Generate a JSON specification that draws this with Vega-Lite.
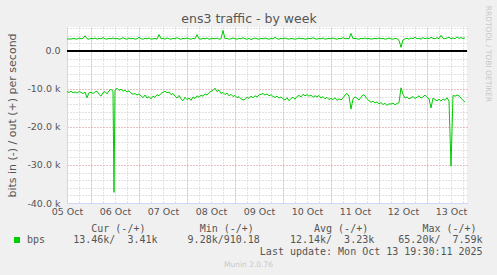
{
"$schema": "https://vega.github.io/schema/vega-lite/v6.json",
"width": 400, "height": 176,
"autosize": {"type": "none"},
"padding": {"left": 67, "top": 27, "right": 30, "bottom": 72},
"background": "#f0f0f0",
"config": {"view": {"fill": "#ffffff", "stroke": null}, "font": "DejaVu Sans"},
"title": {"text": "ens3 traffic - by week", "font": "DejaVu Sans", "fontSize": 12.5, "fontWeight": "normal", "color": "#555555", "anchor": "middle", "dx": -18, "dy": 35, "offset": 5, "baseline": "alphabetic"},
"data": {"values": [
{"time":"2025-10-05T12:00","outbps":3100,"inbps":-10700},
{"time":"2025-10-05T13:00","outbps":3200,"inbps":-10900},
{"time":"2025-10-05T14:00","outbps":3100,"inbps":-10600},
{"time":"2025-10-05T15:00","outbps":3300,"inbps":-11000},
{"time":"2025-10-05T16:00","outbps":3200,"inbps":-10800},
{"time":"2025-10-05T17:00","outbps":3100,"inbps":-11100},
{"time":"2025-10-05T18:00","outbps":3400,"inbps":-10700},
{"time":"2025-10-05T19:00","outbps":3200,"inbps":-10900},
{"time":"2025-10-05T20:00","outbps":3300,"inbps":-11200},
{"time":"2025-10-05T21:00","outbps":4000,"inbps":-10800},
{"time":"2025-10-05T22:00","outbps":3200,"inbps":-12300},
{"time":"2025-10-05T23:00","outbps":3100,"inbps":-11000},
{"time":"2025-10-06T00:00","outbps":3300,"inbps":-10900},
{"time":"2025-10-06T01:00","outbps":3200,"inbps":-11200},
{"time":"2025-10-06T02:00","outbps":3400,"inbps":-10800},
{"time":"2025-10-06T03:00","outbps":3100,"inbps":-10600},
{"time":"2025-10-06T04:00","outbps":3300,"inbps":-11400},
{"time":"2025-10-06T05:00","outbps":3200,"inbps":-11900},
{"time":"2025-10-06T06:00","outbps":3500,"inbps":-11000},
{"time":"2025-10-06T07:00","outbps":3200,"inbps":-10700},
{"time":"2025-10-06T08:00","outbps":3100,"inbps":-11300},
{"time":"2025-10-06T09:00","outbps":3300,"inbps":-10500},
{"time":"2025-10-06T10:00","outbps":3200,"inbps":-10100},
{"time":"2025-10-06T11:00","outbps":3400,"inbps":-10600},
{"time":"2025-10-06T11:30","outbps":3300,"inbps":-37200},
{"time":"2025-10-06T12:00","outbps":3200,"inbps":-10300},
{"time":"2025-10-06T13:00","outbps":3300,"inbps":-9800},
{"time":"2025-10-06T14:00","outbps":3100,"inbps":-10400},
{"time":"2025-10-06T15:00","outbps":3200,"inbps":-10100},
{"time":"2025-10-06T16:00","outbps":3500,"inbps":-10600},
{"time":"2025-10-06T17:00","outbps":3200,"inbps":-10300},
{"time":"2025-10-06T18:00","outbps":3100,"inbps":-10800},
{"time":"2025-10-06T19:00","outbps":3400,"inbps":-10500},
{"time":"2025-10-06T20:00","outbps":3200,"inbps":-11100},
{"time":"2025-10-06T21:00","outbps":3300,"inbps":-11400},
{"time":"2025-10-06T22:00","outbps":3100,"inbps":-11200},
{"time":"2025-10-06T23:00","outbps":3200,"inbps":-11600},
{"time":"2025-10-07T00:00","outbps":3600,"inbps":-11300},
{"time":"2025-10-07T01:00","outbps":3200,"inbps":-11800},
{"time":"2025-10-07T02:00","outbps":3100,"inbps":-12300},
{"time":"2025-10-07T03:00","outbps":3300,"inbps":-11600},
{"time":"2025-10-07T04:00","outbps":3200,"inbps":-12400},
{"time":"2025-10-07T05:00","outbps":3400,"inbps":-12000},
{"time":"2025-10-07T06:00","outbps":3100,"inbps":-12600},
{"time":"2025-10-07T07:00","outbps":3200,"inbps":-11900},
{"time":"2025-10-07T08:00","outbps":3300,"inbps":-12200},
{"time":"2025-10-07T09:00","outbps":3100,"inbps":-11500},
{"time":"2025-10-07T10:00","outbps":4300,"inbps":-11800},
{"time":"2025-10-07T11:00","outbps":3200,"inbps":-11200},
{"time":"2025-10-07T12:00","outbps":3300,"inbps":-10900},
{"time":"2025-10-07T13:00","outbps":3100,"inbps":-10600},
{"time":"2025-10-07T14:00","outbps":3400,"inbps":-11000},
{"time":"2025-10-07T15:00","outbps":3200,"inbps":-10800},
{"time":"2025-10-07T16:00","outbps":3100,"inbps":-11500},
{"time":"2025-10-07T17:00","outbps":3300,"inbps":-11200},
{"time":"2025-10-07T18:00","outbps":3200,"inbps":-11900},
{"time":"2025-10-07T19:00","outbps":3500,"inbps":-12400},
{"time":"2025-10-07T20:00","outbps":3200,"inbps":-11700},
{"time":"2025-10-07T21:00","outbps":3100,"inbps":-12600},
{"time":"2025-10-07T22:00","outbps":3300,"inbps":-13100},
{"time":"2025-10-07T23:00","outbps":3200,"inbps":-12200},
{"time":"2025-10-08T00:00","outbps":3400,"inbps":-12800},
{"time":"2025-10-08T01:00","outbps":3200,"inbps":-12400},
{"time":"2025-10-08T02:00","outbps":3100,"inbps":-13000},
{"time":"2025-10-08T03:00","outbps":3300,"inbps":-12100},
{"time":"2025-10-08T04:00","outbps":3200,"inbps":-12500},
{"time":"2025-10-08T05:00","outbps":4300,"inbps":-11800},
{"time":"2025-10-08T06:00","outbps":3200,"inbps":-12200},
{"time":"2025-10-08T07:00","outbps":3100,"inbps":-11600},
{"time":"2025-10-08T08:00","outbps":3300,"inbps":-11900},
{"time":"2025-10-08T09:00","outbps":3200,"inbps":-11300},
{"time":"2025-10-08T10:00","outbps":3400,"inbps":-11600},
{"time":"2025-10-08T11:00","outbps":3100,"inbps":-11000},
{"time":"2025-10-08T12:00","outbps":3200,"inbps":-10600},
{"time":"2025-10-08T13:00","outbps":3300,"inbps":-10400},
{"time":"2025-10-08T14:00","outbps":3200,"inbps":-9800},
{"time":"2025-10-08T15:00","outbps":3400,"inbps":-10700},
{"time":"2025-10-08T16:00","outbps":3100,"inbps":-10300},
{"time":"2025-10-08T17:00","outbps":3200,"inbps":-11200},
{"time":"2025-10-08T18:00","outbps":5400,"inbps":-10900},
{"time":"2025-10-08T19:00","outbps":3200,"inbps":-11500},
{"time":"2025-10-08T20:00","outbps":3300,"inbps":-11100},
{"time":"2025-10-08T21:00","outbps":3100,"inbps":-11800},
{"time":"2025-10-08T22:00","outbps":3200,"inbps":-11400},
{"time":"2025-10-08T23:00","outbps":3400,"inbps":-12000},
{"time":"2025-10-09T00:00","outbps":3200,"inbps":-11700},
{"time":"2025-10-09T01:00","outbps":3100,"inbps":-12300},
{"time":"2025-10-09T02:00","outbps":3300,"inbps":-12000},
{"time":"2025-10-09T03:00","outbps":3200,"inbps":-12600},
{"time":"2025-10-09T04:00","outbps":3500,"inbps":-12900},
{"time":"2025-10-09T05:00","outbps":3200,"inbps":-12700},
{"time":"2025-10-09T06:00","outbps":3100,"inbps":-12200},
{"time":"2025-10-09T07:00","outbps":3300,"inbps":-12500},
{"time":"2025-10-09T08:00","outbps":3000,"inbps":-11900},
{"time":"2025-10-09T09:00","outbps":3200,"inbps":-12300},
{"time":"2025-10-09T10:00","outbps":3400,"inbps":-11800},
{"time":"2025-10-09T11:00","outbps":3200,"inbps":-12100},
{"time":"2025-10-09T12:00","outbps":3100,"inbps":-11600},
{"time":"2025-10-09T13:00","outbps":3300,"inbps":-11400},
{"time":"2025-10-09T14:00","outbps":3200,"inbps":-11200},
{"time":"2025-10-09T15:00","outbps":3400,"inbps":-11600},
{"time":"2025-10-09T16:00","outbps":3200,"inbps":-11300},
{"time":"2025-10-09T17:00","outbps":3100,"inbps":-11800},
{"time":"2025-10-09T18:00","outbps":3300,"inbps":-11500},
{"time":"2025-10-09T19:00","outbps":3200,"inbps":-12000},
{"time":"2025-10-09T20:00","outbps":3600,"inbps":-12200},
{"time":"2025-10-09T21:00","outbps":3200,"inbps":-11900},
{"time":"2025-10-09T22:00","outbps":3100,"inbps":-12400},
{"time":"2025-10-09T23:00","outbps":3300,"inbps":-12100},
{"time":"2025-10-10T00:00","outbps":3200,"inbps":-12600},
{"time":"2025-10-10T01:00","outbps":3400,"inbps":-12900},
{"time":"2025-10-10T02:00","outbps":3200,"inbps":-12300},
{"time":"2025-10-10T03:00","outbps":3100,"inbps":-13100},
{"time":"2025-10-10T04:00","outbps":3300,"inbps":-12500},
{"time":"2025-10-10T05:00","outbps":3200,"inbps":-12200},
{"time":"2025-10-10T06:00","outbps":3100,"inbps":-12700},
{"time":"2025-10-10T07:00","outbps":3200,"inbps":-12000},
{"time":"2025-10-10T08:00","outbps":3400,"inbps":-11700},
{"time":"2025-10-10T09:00","outbps":3200,"inbps":-12100},
{"time":"2025-10-10T10:00","outbps":3300,"inbps":-11400},
{"time":"2025-10-10T11:00","outbps":3100,"inbps":-11800},
{"time":"2025-10-10T12:00","outbps":3200,"inbps":-11500},
{"time":"2025-10-10T13:00","outbps":3300,"inbps":-11900},
{"time":"2025-10-10T14:00","outbps":3200,"inbps":-11600},
{"time":"2025-10-10T15:00","outbps":3500,"inbps":-12200},
{"time":"2025-10-10T16:00","outbps":3200,"inbps":-11800},
{"time":"2025-10-10T17:00","outbps":3100,"inbps":-12100},
{"time":"2025-10-10T18:00","outbps":3300,"inbps":-11700},
{"time":"2025-10-10T19:00","outbps":3200,"inbps":-12400},
{"time":"2025-10-10T20:00","outbps":3400,"inbps":-12000},
{"time":"2025-10-10T21:00","outbps":3100,"inbps":-12600},
{"time":"2025-10-10T22:00","outbps":3200,"inbps":-12200},
{"time":"2025-10-10T23:00","outbps":3300,"inbps":-12800},
{"time":"2025-10-11T00:00","outbps":3200,"inbps":-12500},
{"time":"2025-10-11T01:00","outbps":3400,"inbps":-12800},
{"time":"2025-10-11T02:00","outbps":3200,"inbps":-12300},
{"time":"2025-10-11T03:00","outbps":3100,"inbps":-13000},
{"time":"2025-10-11T04:00","outbps":3300,"inbps":-12600},
{"time":"2025-10-11T05:00","outbps":3200,"inbps":-12900},
{"time":"2025-10-11T06:00","outbps":3500,"inbps":-12400},
{"time":"2025-10-11T07:00","outbps":3200,"inbps":-11600},
{"time":"2025-10-11T08:00","outbps":3300,"inbps":-11200},
{"time":"2025-10-11T09:00","outbps":3200,"inbps":-11900},
{"time":"2025-10-11T10:00","outbps":4600,"inbps":-15300},
{"time":"2025-10-11T11:00","outbps":3200,"inbps":-12600},
{"time":"2025-10-11T12:00","outbps":3300,"inbps":-12100},
{"time":"2025-10-11T13:00","outbps":3200,"inbps":-12400},
{"time":"2025-10-11T14:00","outbps":3100,"inbps":-12900},
{"time":"2025-10-11T15:00","outbps":3300,"inbps":-12200},
{"time":"2025-10-11T16:00","outbps":3200,"inbps":-11500},
{"time":"2025-10-11T17:00","outbps":3400,"inbps":-11800},
{"time":"2025-10-11T18:00","outbps":3200,"inbps":-12600},
{"time":"2025-10-11T19:00","outbps":3300,"inbps":-13100},
{"time":"2025-10-11T20:00","outbps":3100,"inbps":-13500},
{"time":"2025-10-11T21:00","outbps":3200,"inbps":-13200},
{"time":"2025-10-11T22:00","outbps":3300,"inbps":-13700},
{"time":"2025-10-11T23:00","outbps":3200,"inbps":-13400},
{"time":"2025-10-12T00:00","outbps":3400,"inbps":-13900},
{"time":"2025-10-12T01:00","outbps":3200,"inbps":-13600},
{"time":"2025-10-12T02:00","outbps":3300,"inbps":-14100},
{"time":"2025-10-12T03:00","outbps":3100,"inbps":-13800},
{"time":"2025-10-12T04:00","outbps":3200,"inbps":-14300},
{"time":"2025-10-12T05:00","outbps":3400,"inbps":-13900},
{"time":"2025-10-12T06:00","outbps":3200,"inbps":-14000},
{"time":"2025-10-12T07:00","outbps":3100,"inbps":-13700},
{"time":"2025-10-12T08:00","outbps":3300,"inbps":-14200},
{"time":"2025-10-12T09:00","outbps":3200,"inbps":-13800},
{"time":"2025-10-12T10:00","outbps":2800,"inbps":-13600},
{"time":"2025-10-12T11:00","outbps":950,"inbps":-9700},
{"time":"2025-10-12T12:00","outbps":2900,"inbps":-11400},
{"time":"2025-10-12T13:00","outbps":3200,"inbps":-12400},
{"time":"2025-10-12T14:00","outbps":3300,"inbps":-12100},
{"time":"2025-10-12T15:00","outbps":3100,"inbps":-12600},
{"time":"2025-10-12T16:00","outbps":3400,"inbps":-12300},
{"time":"2025-10-12T17:00","outbps":3200,"inbps":-12000},
{"time":"2025-10-12T18:00","outbps":3600,"inbps":-12500},
{"time":"2025-10-12T19:00","outbps":3200,"inbps":-12200},
{"time":"2025-10-12T20:00","outbps":3300,"inbps":-11800},
{"time":"2025-10-12T21:00","outbps":3100,"inbps":-12400},
{"time":"2025-10-12T22:00","outbps":3500,"inbps":-12100},
{"time":"2025-10-12T23:00","outbps":3200,"inbps":-11600},
{"time":"2025-10-13T00:00","outbps":3400,"inbps":-12200},
{"time":"2025-10-13T01:00","outbps":3200,"inbps":-12600},
{"time":"2025-10-13T02:00","outbps":3600,"inbps":-15000},
{"time":"2025-10-13T03:00","outbps":3300,"inbps":-12400},
{"time":"2025-10-13T04:00","outbps":3200,"inbps":-12800},
{"time":"2025-10-13T05:00","outbps":3500,"inbps":-13100},
{"time":"2025-10-13T06:00","outbps":3200,"inbps":-12700},
{"time":"2025-10-13T07:00","outbps":4100,"inbps":-13200},
{"time":"2025-10-13T08:00","outbps":3300,"inbps":-12600},
{"time":"2025-10-13T09:00","outbps":3200,"inbps":-13000},
{"time":"2025-10-13T10:00","outbps":3400,"inbps":-12300},
{"time":"2025-10-13T11:00","outbps":3600,"inbps":-13200},
{"time":"2025-10-13T12:00","outbps":3200,"inbps":-30300},
{"time":"2025-10-13T13:00","outbps":3400,"inbps":-11700},
{"time":"2025-10-13T14:00","outbps":3200,"inbps":-11900},
{"time":"2025-10-13T15:00","outbps":3700,"inbps":-11600},
{"time":"2025-10-13T16:00","outbps":3300,"inbps":-11800},
{"time":"2025-10-13T17:00","outbps":3500,"inbps":-12400},
{"time":"2025-10-13T18:00","outbps":3300,"inbps":-13000},
{"time":"2025-10-13T19:00","outbps":3410,"inbps":-13460}
]},
"resolve": {"axis": {"x": "independent", "y": "independent"}},
"layer": [
{
"mark": {"type": "line", "strokeWidth": 1},
"encoding": {
"x": {"field": "time", "type": "temporal",
"scale": {"domain": [{"year": 2025, "month": 10, "date": 5, "hours": 12}, {"year": 2025, "month": 10, "date": 13, "hours": 20}]},
"axis": {"orient": "bottom",
"values": [
{"year":2025,"month":10,"date":5,"hours":12},{"year":2025,"month":10,"date":5,"hours":18},
{"year":2025,"month":10,"date":6,"hours":0},{"year":2025,"month":10,"date":6,"hours":6},{"year":2025,"month":10,"date":6,"hours":12},{"year":2025,"month":10,"date":6,"hours":18},
{"year":2025,"month":10,"date":7,"hours":0},{"year":2025,"month":10,"date":7,"hours":6},{"year":2025,"month":10,"date":7,"hours":12},{"year":2025,"month":10,"date":7,"hours":18},
{"year":2025,"month":10,"date":8,"hours":0},{"year":2025,"month":10,"date":8,"hours":6},{"year":2025,"month":10,"date":8,"hours":12},{"year":2025,"month":10,"date":8,"hours":18},
{"year":2025,"month":10,"date":9,"hours":0},{"year":2025,"month":10,"date":9,"hours":6},{"year":2025,"month":10,"date":9,"hours":12},{"year":2025,"month":10,"date":9,"hours":18},
{"year":2025,"month":10,"date":10,"hours":0},{"year":2025,"month":10,"date":10,"hours":6},{"year":2025,"month":10,"date":10,"hours":12},{"year":2025,"month":10,"date":10,"hours":18},
{"year":2025,"month":10,"date":11,"hours":0},{"year":2025,"month":10,"date":11,"hours":6},{"year":2025,"month":10,"date":11,"hours":12},{"year":2025,"month":10,"date":11,"hours":18},
{"year":2025,"month":10,"date":12,"hours":0},{"year":2025,"month":10,"date":12,"hours":6},{"year":2025,"month":10,"date":12,"hours":12},{"year":2025,"month":10,"date":12,"hours":18},
{"year":2025,"month":10,"date":13,"hours":0},{"year":2025,"month":10,"date":13,"hours":6},{"year":2025,"month":10,"date":13,"hours":12},{"year":2025,"month":10,"date":13,"hours":18}],
"grid": true, "gridColor": "#c4c4c4", "gridDash": [1, 2], "domain": true, "domainColor": "#cfd6f8", "ticks": false,
"labelExpr": "hours(datum.value) == 12 ? timeFormat(datum.value, '%d %b') : ''", "labelFlush": false, "labelOverlap": false, "labelPadding": 3, "labelFontSize": 9.5, "labelColor": "#555555", "labelFont": "DejaVu Sans",
"title": ["\u200b\u00a0\u00a0\u00a0Cur (-/+)\u00a0\u00a0\u00a0\u00a0\u00a0\u00a0\u00a0\u00a0\u00a0Min (-/+)\u00a0\u00a0\u00a0\u00a0\u00a0\u00a0\u00a0\u00a0\u00a0\u00a0Avg (-/+)\u00a0\u00a0\u00a0\u00a0\u00a0\u00a0\u00a0\u00a0\u00a0Max (-/+)",
"13.46k/\u00a0\u00a03.41k\u00a0\u00a0\u00a0\u00a0\u00a09.28k/910.18\u00a0\u00a0\u00a0\u00a0\u00a012.14k/\u00a0\u00a03.23k\u00a0\u00a0\u00a0\u00a065.20k/\u00a0\u00a07.59k",
"\u200b\u00a0\u00a0\u00a0\u00a0\u00a0\u00a0\u00a0\u00a0\u00a0\u00a0\u00a0\u00a0\u00a0\u00a0\u00a0\u00a0\u00a0\u00a0\u00a0\u00a0\u00a0\u00a0\u00a0\u00a0\u00a0\u00a0\u00a0\u00a0\u00a0\u00a0\u00a0Last update: Mon Oct 13 19:30:11 2025"],
"titleFont": "DejaVu Sans Mono", "titleFontSize": 10, "titleFontWeight": "normal", "titleColor": "#555555", "titleAlign": "left", "titleBaseline": "alphabetic", "titleAngle": 0, "titleLineHeight": 11.7, "titleX": 5.7, "titleY": 28}},
"y": {"field": "outbps", "type": "quantitative",
"scale": {"domain": [-40000, 6300], "nice": false, "zero": false},
"axis": {"orient": "right", "values": [-38000, -36000, -34000, -32000, -30000, -28000, -26000, -24000, -22000, -20000, -18000, -16000, -14000, -12000, -10000, -8000, -6000, -4000, -2000, 0, 2000, 4000, 6000],
"grid": true, "gridColor": "#c4c4c4", "gridDash": [1, 2], "labels": false, "ticks": false, "domain": false,
"title": "RRDTOOL / TOBI OETIKER", "titleFont": "DejaVu Sans", "titleFontSize": 7.5, "titleFontWeight": "normal", "titleColor": "#c8c8c8", "titleAngle": 90, "titleAlign": "center", "titleBaseline": "middle", "titleX": 20.5, "titleY": 26.5}},
"color": {"datum": "bps", "type": "nominal", "scale": {"range": ["#00cc00"]},
"legend": {"orient": "none", "legendX": -55, "legendY": 208, "title": null, "symbolType": "square", "symbolSize": 36, "symbolFillColor": "#00cc00", "symbolStrokeColor": "#00cc00", "symbolStrokeWidth": 0, "labelFont": "DejaVu Sans Mono", "labelFontSize": 10, "labelColor": "#555555", "labelOffset": 5, "padding": 0}}
}
},
{
"mark": {"type": "line", "color": "#00cc00", "strokeWidth": 1},
"encoding": {
"x": {"field": "time", "type": "temporal",
"axis": {"orient": "top",
"values": [{"year":2025,"month":10,"date":6},{"year":2025,"month":10,"date":7},{"year":2025,"month":10,"date":8},{"year":2025,"month":10,"date":9},{"year":2025,"month":10,"date":10},{"year":2025,"month":10,"date":11},{"year":2025,"month":10,"date":12},{"year":2025,"month":10,"date":13}],
"grid": true, "gridColor": "#e8a0a0", "gridDash": [1, 2], "domain": false, "ticks": false, "labels": false,
"title": "Munin 2.0.76", "titleFont": "DejaVu Sans", "titleFontSize": 7.5, "titleFontWeight": "normal", "titleColor": "#c8c8c8", "titleAlign": "center", "titleBaseline": "middle", "titleX": 181, "titleY": 237}},
"y": {"field": "inbps", "type": "quantitative",
"axis": {"orient": "left", "values": [-40000, -30000, -20000, -10000, 0], "grid": true, "gridColor": "#e8a0a0", "gridDash": [1, 2], "ticks": false, "domain": true, "domainColor": "#cfd6f8",
"labelExpr": "datum.value == 0 ? '0.0' : '-' + format(-datum.value / 1000, '.1f') + ' k'", "labelFont": "DejaVu Sans", "labelFontSize": 9.5, "labelColor": "#555555", "labelPadding": 7,
"title": "bits in (-) / out (+) per second", "titleFont": "DejaVu Sans", "titleFontSize": 11, "titleFontWeight": "normal", "titleColor": "#555555", "titleAngle": 270, "titleAlign": "center", "titleBaseline": "middle", "titleX": -55, "titleY": 88}}
}
},
{
"mark": {"type": "rule", "color": "#000000", "strokeWidth": 1},
"encoding": {"y": {"datum": 0, "type": "quantitative", "axis": null}}
}
]
}
